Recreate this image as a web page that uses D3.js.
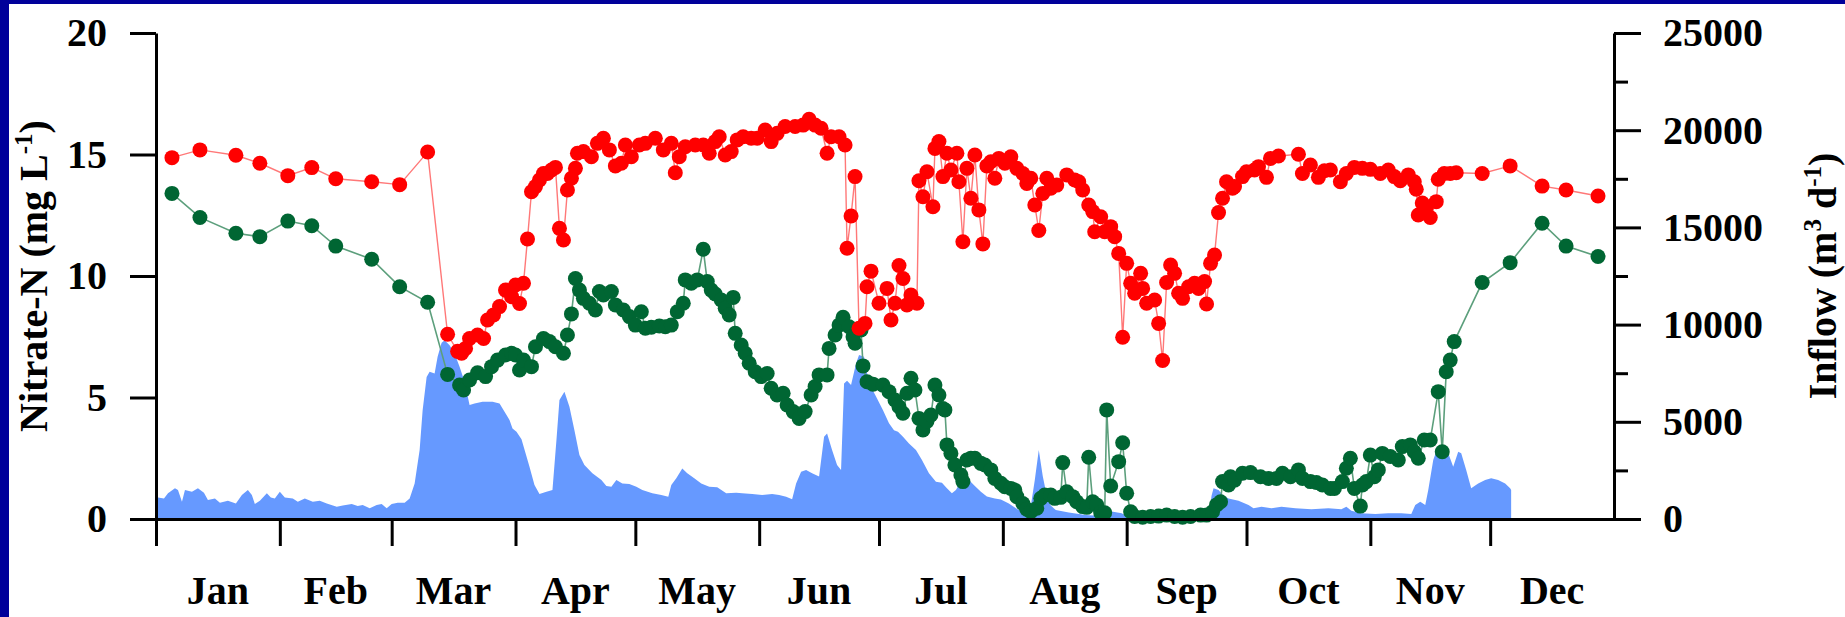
<!DOCTYPE html>
<html><head><meta charset="utf-8">
<script src="https://cdn.jsdelivr.net/npm/d3@7"></script>
<style>html,body{margin:0;padding:0;background:#fff;overflow:hidden}</style>
</head><body>
<svg id="chart" width="1845" height="617"></svg>
<script>
// ---------- DATA ----------
const monthLabels = ["Jan","Feb","Mar","Apr","May","Jun","Jul","Aug","Sep","Oct","Nov","Dec"];
const monthStarts = [0,31,59,90,120,151,181,212,243,273,304,334];
const leftTicks = [0,5,10,15,20];
const rightTicks = [0,5000,10000,15000,20000,25000];
const rightMinorTicks = [2500,7500,12500,17500,22500];

// Nitrate-N (mg/L), red series: [day of year, value]
const redPoints = [[4,14.87],[11,15.19],[20,14.97],[26,14.64],[33,14.13],[39,14.46],[45,14.0],[54,13.88],[61,13.76],[68,15.10],[73,7.6],[75.5,6.9],[76.5,6.82],[77.5,7.02],[78.5,7.43],[80.5,7.57],[82,7.43],[83,8.19],[84.5,8.40],[86,8.74],[87.5,9.42],[89,9.15],[90,9.63],[91,8.87],[92,9.70],[93,11.52],[94,13.47],[95,13.68],[96,13.95],[97,14.22],[98,14.22],[99,14.36],[100,14.47],[101,11.96],[102,11.48],[103,13.54],[104,14.02],[105,14.43],[105.5,15.05],[107,15.12],[109,14.91],[110.5,15.46],[112,15.67],[113.5,15.19],[115,14.53],[116.5,14.64],[117.5,15.39],[119,14.91],[121,15.39],[122.5,15.46],[125,15.67],[127,15.19],[129,15.46],[130,14.25],[131,14.91],[132.5,15.32],[135,15.39],[137,15.39],[138.5,15.05],[140,15.53],[141,15.73],[142.5,14.98],[144,15.12],[145.5,15.60],[147,15.73],[149,15.67],[150.5,15.67],[152.5,16.01],[154,15.53],[155.5,15.87],[157.5,16.15],[160,16.15],[162,16.21],[163.5,16.45],[165,16.21],[166.5,16.08],[168,15.05],[169,15.73],[171,15.73],[172.5,15.39],[173,11.14],[174,12.47],[175,14.09],[176,7.85],[177.5,8.05],[178,9.56],[179,10.2],[181,8.88],[183,9.49],[184,8.19],[185,8.88],[186,10.43],[187,9.90],[188,8.81],[189,9.22],[190.5,8.88],[191,13.92],[192,13.26],[193,14.29],[194.5,12.85],[195,15.25],[196,15.53],[197,14.09],[198,15.05],[199,14.36],[200.5,15.05],[201,13.88],[202,11.41],[203,14.43],[204,13.20],[205,14.98],[206,12.72],[207,11.32],[208,14.53],[209,14.70],[210,14.02],[211,14.84],[212.5,14.64],[214,14.91],[215.5,14.43],[217,14.22],[218,13.81],[219,14.02],[220,12.92],[221,11.87],[222,13.40],[223,14.02],[224,13.61],[225.5,13.74],[228,14.16],[230,13.95],[231,13.88],[232,13.54],[233.5,12.92],[234.5,12.65],[235,11.82],[236.5,12.44],[237.5,11.82],[239,12.03],[240,11.62],[241,10.93],[242,7.48],[243,10.52],[244,9.70],[245,9.29],[246.5,10.11],[247,9.49],[248,8.88],[250,9.01],[251,8.05],[252,6.52],[253,9.73],[254,10.45],[255,10.11],[256,9.29],[257,9.08],[258.5,9.56],[260,9.70],[261,9.49],[262.5,9.77],[263,8.85],[264,10.52],[265,10.86],[266,12.61],[267,13.20],[268,13.88],[269.5,13.61],[270,13.68],[272,14.09],[273,14.29],[275,14.36],[276,14.50],[278,14.06],[279,14.84],[281,14.94],[286,15.01],[287,14.22],[289,14.57],[291,14.06],[292.5,14.33],[294,14.36],[296.5,13.88],[298,14.22],[300,14.47],[302,14.43],[304,14.39],[306.5,14.22],[308.5,14.36],[310,14.09],[311.5,13.92],[313.5,14.16],[315,13.88],[315.5,13.57],[316,12.51],[317,13.0],[318,12.85],[319,12.41],[320.5,13.06],[321,13.98],[322.5,14.22],[324,14.22],[325.5,14.25],[332,14.22],[339,14.53],[347,13.70],[353,13.54],[361,13.29]];

// Nitrate-N (mg/L), green series: [day of year, value]
const greenPoints = [[4,13.40],[11,12.41],[20,11.76],[26,11.62],[33,12.26],[39,12.07],[45,11.23],[54,10.69],[61,9.56],[68,8.92],[73,5.95],[76,5.51],[77,5.31],[78.5,5.72],[80.5,6.02],[82.5,5.86],[84,6.27],[85.5,6.54],[87.5,6.75],[89,6.82],[90,6.75],[91,6.13],[92,6.54],[94,6.27],[95,7.09],[97,7.43],[98.5,7.30],[100,7.09],[102,6.82],[103,7.57],[104,8.44],[105,9.90],[106,9.42],[107,9.08],[108.5,8.88],[110,8.60],[111,9.36],[112,9.22],[114,9.36],[115,8.81],[117,8.60],[118.5,8.33],[120,7.98],[121.5,8.53],[122.5,7.85],[124,7.89],[126,7.94],[127.5,7.91],[129,7.98],[130.5,8.53],[132,8.88],[132.5,9.84],[134,9.70],[135.5,9.84],[137,11.10],[138,9.77],[139,9.42],[140,9.26],[141.5,9.01],[142.5,8.67],[143.5,8.40],[144.5,9.12],[145,7.64],[146.5,7.16],[147.5,6.82],[148.5,6.41],[150,6.06],[151.5,5.86],[153,5.99],[154,5.38],[155.5,5.10],[157,5.17],[158,4.69],[159.5,4.42],[161,4.14],[162.5,4.42],[164,5.10],[165,5.45],[166,5.93],[168,5.93],[168.5,7.02],[170,7.57],[171,7.98],[172,8.30],[173.5,7.91],[174.5,7.50],[175,7.23],[176.5,7.78],[177,6.30],[178,5.65],[179.5,5.55],[182,5.51],[183.5,5.24],[185,4.90],[186,4.62],[187,4.35],[188,5.17],[189,5.79],[190,5.31],[191,4.14],[192,3.66],[193,4.01],[194,4.28],[195,5.51],[196,5.10],[197,4.55],[197.5,4.49],[198,3.05],[199,2.70],[200,2.22],[201.5,1.81],[202,1.54],[203,2.43],[204,2.50],[205,2.50],[206.5,2.29],[207.5,2.22],[209,2.02],[210,1.67],[211.5,1.47],[212.5,1.33],[214,1.26],[215,1.19],[215.5,0.92],[217,0.64],[218,0.40],[219,0.30],[220.5,0.44],[221.5,0.85],[222.5,0.99],[224,0.99],[225,0.85],[226.5,0.89],[227,2.32],[228,1.12],[229.5,0.92],[230.5,0.71],[232,0.51],[233,0.48],[233.5,2.54],[234.5,0.71],[235.5,0.58],[236.5,0.26],[237.5,0.26],[238,4.49],[239,1.36],[241,2.36],[242,3.14],[243,1.06],[244,0.30],[245,0.10],[247,0.07],[249,0.10],[251,0.12],[253,0.16],[255,0.10],[257,0.07],[259,0.10],[261.5,0.16],[263,0.16],[264.5,0.30],[265.5,0.58],[266.5,0.71],[267,1.54],[268.5,1.40],[269,1.74],[270,1.60],[272,1.88],[274,1.91],[276.5,1.74],[278.5,1.67],[280.5,1.67],[282,1.88],[284,1.74],[286,2.02],[287,1.67],[289,1.54],[290.5,1.50],[292,1.40],[294,1.26],[295,1.26],[297,1.54],[298,2.09],[299,2.50],[300,1.26],[301.5,0.53],[302,1.40],[303,1.54],[304,2.63],[305,1.74],[306,2.02],[307,2.70],[309,2.57],[311,2.43],[312,2.98],[314,3.05],[315,2.77],[316,2.50],[317.5,3.25],[319,3.25],[321,5.24],[322,2.77],[323,6.06],[324,6.54],[325,7.30],[332,9.73],[339,10.55],[347,12.17],[353,11.23],[361,10.80]];

// Inflow (m3/d): [day of year, value]
const inflowPoints = [[0,550],[0.5,1110],[2,1060],[3,1320],[4.75,1580],[5.5,1490],[6.5,890],[7.25,1490],[9,1400],[10.5,1580],[12,1350],[13,980],[14.75,1060],[16,840],[18,940],[20,800],[21.5,1230],[23,1490],[24,1230],[24.75,770],[26,940],[27.75,1320],[28.75,1110],[29.75,1060],[31,1400],[32.25,1110],[34.25,1060],[35.5,890],[37.25,1060],[39.25,890],[41,940],[42.75,800],[45.25,630],[46.75,690],[49,770],[50.5,670],[51.75,720],[53.5,550],[55.25,720],[56.5,770],[57.75,550],[59,770],[60.5,840],[62.25,840],[63.5,1060],[64.75,1830],[66,3550],[66.75,5600],[67.75,7310],[68.5,7570],[69.75,7490],[70.5,8340],[71.5,9060],[72.25,9200],[73.5,8940],[74.75,8510],[76,7830],[77.25,7060],[78.5,5860],[79.75,5940],[81.75,6030],[84.25,6030],[86,5940],[87.75,5350],[88.5,5090],[89.25,4660],[90.25,4490],[91.5,4100],[93.5,2690],[94.75,1750],[96,1290],[97.75,1400],[99.25,1490],[100.25,4060],[101,6120],[102.25,6540],[103.5,5770],[104.75,4570],[106,3290],[107.25,2780],[109.25,2350],[111.5,2000],[112.75,1700],[114,1660],[115.25,2000],[116.75,1830],[118.5,1800],[120.25,1660],[121.75,1490],[124.25,1320],[126.5,1230],[128.25,1150],[129,1750],[130.25,2090],[131.75,2600],[133,2350],[134.75,2090],[136.5,1830],[138.5,1660],[140.5,1630],[142.75,1320],[145.25,1350],[146.75,1320],[149.25,1290],[151.75,1230],[154.25,1290],[156,1230],[157.75,1150],[159.25,1010],[160.25,1830],[161.5,2430],[162.75,2520],[164.25,2350],[166,2180],[167.25,4230],[168,4400],[169.25,3550],[170.5,2780],[171.5,2520],[172.25,6970],[173,7110],[174,6890],[175.25,8000],[176,8430],[177.25,8340],[178.5,7000],[180.25,6300],[182,5600],[183.5,4920],[184.75,4570],[185.75,4490],[187,4230],[188.5,3890],[190.25,3550],[191.75,3030],[193.5,2350],[195.25,1920],[196.75,1870],[198,1580],[199.25,1320],[200.25,1490],[201.75,2000],[203.5,2000],[205,1700],[206.5,1400],[208,1160],[210,1060],[211.5,1000],[213.5,800],[215.75,490],[217.5,400],[218.75,330],[220,2000],[221,3550],[222,2200],[223,1200],[224,700],[225.25,460],[228.5,330],[232.75,210],[236.75,150],[239.25,380],[241.75,290],[243.5,90],[245,80],[250,80],[255,80],[260,80],[263.5,90],[264.25,1200],[264.75,1580],[266,1490],[267.25,1200],[268.5,1060],[271,940],[273.5,720],[274.75,550],[276.75,630],[279.25,550],[281.75,630],[285.25,550],[289.25,500],[293.5,550],[296.75,500],[298,630],[299.25,430],[301.75,290],[305.25,260],[308.5,290],[311.75,290],[314.25,260],[315.25,720],[316.5,890],[317.75,720],[318.5,1490],[319.75,3030],[321,3750],[322.25,3630],[323.5,3380],[324.75,2690],[326,3460],[326.75,3380],[328,2520],[329.25,1580],[331,1830],[332.75,2000],[334.25,2090],[336,2000],[337.75,1830],[339,1580],[339.25,1490]];

// ---------- DRAW ----------
const W = 1845, H = 617;
const FONT = "'Liberation Serif','Times New Roman',serif";
const svg = d3.select("#chart");

svg.append("rect").attr("width", W).attr("height", H).attr("fill", "#ffffff");
svg.append("rect").attr("x", 0).attr("y", 0).attr("width", W).attr("height", 4).attr("fill", "#00009a");
svg.append("rect").attr("x", 0).attr("y", 0).attr("width", 9).attr("height", H).attr("fill", "#00009a");

const x = d3.scaleLinear().domain([0, 365]).range([156, 1614]);
const yL = d3.scaleLinear().domain([0, 20]).range([519, 33]);
const yR = d3.scaleLinear().domain([0, 25000]).range([519, 33]);

// inflow area
svg.append("path").datum(inflowPoints)
  .attr("fill", "#6699ff")
  .attr("d", d3.area().x(d => x(d[0])).y0(yR(0)).y1(d => yR(d[1])));

// green series
svg.append("path").datum(greenPoints)
  .attr("fill", "none").attr("stroke", "#5c9f7c").attr("stroke-width", 1.6)
  .attr("d", d3.line().x(d => x(d[0])).y(d => yL(d[1])));
svg.append("g").selectAll("circle").data(greenPoints).join("circle")
  .attr("cx", d => x(d[0])).attr("cy", d => yL(d[1])).attr("r", 7.5)
  .attr("fill", "#006633");

// red series
svg.append("path").datum(redPoints)
  .attr("fill", "none").attr("stroke", "#ff7878").attr("stroke-width", 1.4)
  .attr("d", d3.line().x(d => x(d[0])).y(d => yL(d[1])));
svg.append("g").selectAll("circle").data(redPoints).join("circle")
  .attr("cx", d => x(d[0])).attr("cy", d => yL(d[1])).attr("r", 7.5)
  .attr("fill", "#ff0000");

function styleAxis(g) {
  g.select(".domain").attr("stroke", "#000").attr("stroke-width", 3);
  g.selectAll(".tick line").attr("stroke", "#000").attr("stroke-width", 3);
  g.selectAll(".tick text").attr("font-family", FONT).attr("font-size", 40)
    .attr("font-weight", "bold").attr("fill", "#000");
}

// bottom axis
const gB = svg.append("g").attr("transform", "translate(0,519)")
  .call(d3.axisBottom(x).tickValues(monthStarts).tickSize(27).tickSizeOuter(0).tickFormat(""));
styleAxis(gB);
svg.append("g").selectAll("text").data(monthLabels).join("text")
  .attr("x", (d, i) => x((monthStarts[i] + (i < 11 ? monthStarts[i + 1] : 365)) / 2))
  .attr("y", 604)
  .attr("text-anchor", "middle")
  .attr("font-family", FONT).attr("font-size", 40).attr("font-weight", "bold").attr("fill", "#000")
  .text(d => d);

// left axis
const gL = svg.append("g").attr("transform", "translate(156,0)")
  .call(d3.axisLeft(yL).tickValues(leftTicks).tickSize(26).tickSizeOuter(0).tickPadding(23).tickFormat(d3.format("d")));
styleAxis(gL);

// right axis
const gR = svg.append("g").attr("transform", "translate(1614,0)")
  .call(d3.axisRight(yR).tickValues(rightTicks).tickSize(27).tickSizeOuter(0).tickPadding(22).tickFormat(d3.format("d")));
styleAxis(gR);
const gRm = svg.append("g").attr("transform", "translate(1614,0)")
  .call(d3.axisRight(yR).tickValues(rightMinorTicks).tickSize(14).tickSizeOuter(0).tickFormat(""));
gRm.select(".domain").remove();
gRm.selectAll(".tick line").attr("stroke", "#000").attr("stroke-width", 3);

// axis titles
const tL = svg.append("text")
  .attr("transform", "translate(47,276) rotate(-90)")
  .attr("text-anchor", "middle")
  .attr("font-family", FONT).attr("font-size", 40).attr("font-weight", "bold").attr("fill", "#000");
tL.append("tspan").text("Nitrate-N (mg L");
tL.append("tspan").attr("font-size", 25).attr("dy", -15).text("-1");
tL.append("tspan").attr("dy", 15).text(")");

const tR = svg.append("text")
  .attr("transform", "translate(1836,276) rotate(-90)")
  .attr("text-anchor", "middle")
  .attr("font-family", FONT).attr("font-size", 40).attr("font-weight", "bold").attr("fill", "#000");
tR.append("tspan").text("Inflow (m");
tR.append("tspan").attr("font-size", 25).attr("dy", -15).text("3");
tR.append("tspan").attr("dy", 15).text(" d");
tR.append("tspan").attr("font-size", 25).attr("dy", -15).text("-1");
tR.append("tspan").attr("dy", 15).text(")");
</script>
</body></html>
